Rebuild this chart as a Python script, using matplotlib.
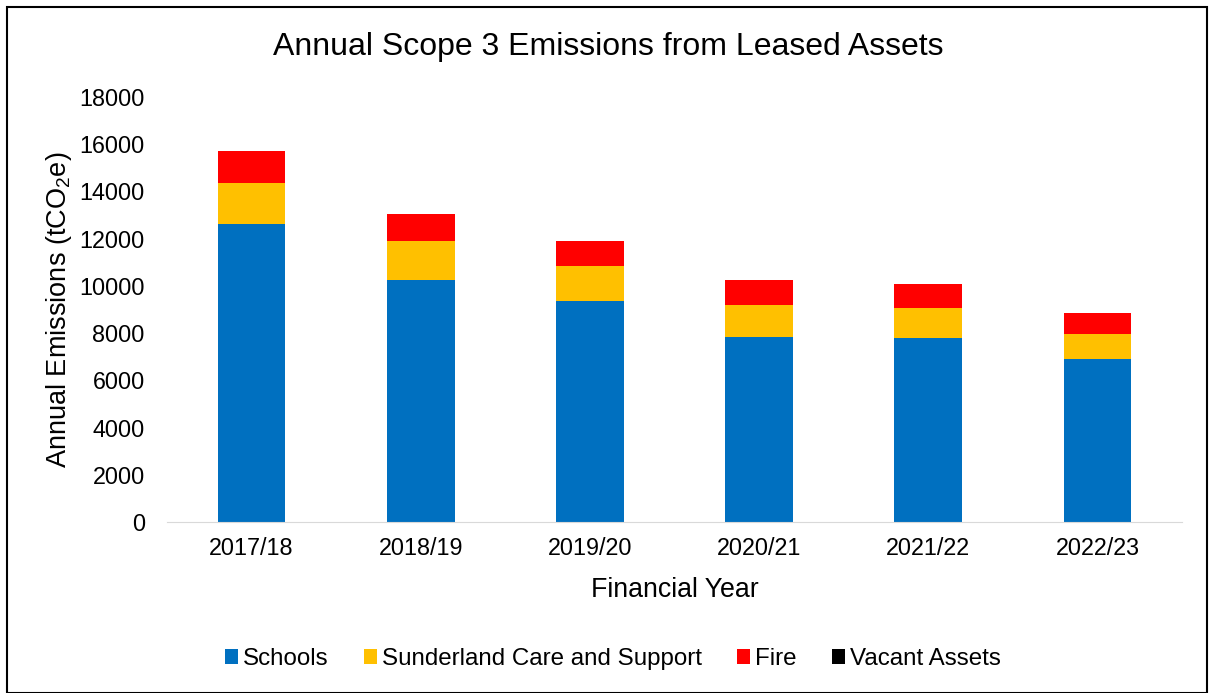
import matplotlib
matplotlib.use("Agg")
import matplotlib.pyplot as plt
import numpy as np
from matplotlib.patches import Rectangle

plt.rcParams['font.family'] = ['Liberation Sans', 'DejaVu Sans']
plt.rcParams['mathtext.default'] = 'regular'

# data (tCO2e)
years = ['2017/18', '2018/19', '2019/20', '2020/21', '2021/22', '2022/23']
schools = [12610, 10250, 9370, 7840, 7810, 6920]
care_support = [1750, 1650, 1460, 1350, 1270, 1040]
fire = [1370, 1130, 1070, 1060, 1000, 890]
vacant = [0, 0, 0, 0, 0, 0]

series = [('Schools', schools, '#0070C0'),
          ('Sunderland Care and Support', care_support, '#FFC000'),
          ('Fire', fire, '#FF0000'),
          ('Vacant Assets', vacant, '#000000')]

fig = plt.figure(figsize=(12.09, 6.93), dpi=100)
ax = fig.add_axes([167/1209, 1 - 522/693, 1015/1209, 425/693])

x = np.arange(len(years))
bottom = np.zeros(len(years))
for name, vals, col in series:
    ax.bar(x, vals, 0.4, bottom=bottom, color=col, label=name)
    bottom += np.array(vals)

ax.set_xlim(-0.5, len(years) - 0.5)
ax.set_ylim(0, 18000)
ax.set_yticks(range(0, 18001, 2000))
ax.set_xticks(x)
ax.set_xticklabels(years)
ax.tick_params(axis='both', length=0, labelsize=16.8)
ax.tick_params(axis='y', pad=16)
ax.tick_params(axis='x', pad=11)
for s in ['top', 'right', 'left']:
    ax.spines[s].set_visible(False)
ax.spines['bottom'].set_color('#D9D9D9')

ax.set_xlabel('Financial Year', fontsize=19.3)
ax.xaxis.set_label_coords(0.5, -(577 - 522) / 425)
ax.set_ylabel('Annual Emissions (tCO$_2$e)', fontsize=19.5)
ax.yaxis.set_label_coords((74 - 167) / 1015, 0.5)
fig.text(608/1209, 1 - 47/693, 'Annual Scope 3 Emissions from Leased Assets',
         fontsize=23, ha='center', va='center')

fig.legend(loc='center', bbox_to_anchor=(613/1209, 1 - 659/693), ncol=4,
           frameon=False, fontsize=17.4, handlelength=0.55, handleheight=0.55,
           handletextpad=0.2, columnspacing=1.45)

fig.patches.append(Rectangle((7/1209, 0), 1200/1209, 1 - 7/693, fill=False,
                             edgecolor='black', linewidth=1.5,
                             transform=fig.transFigure, figure=fig))

fig.savefig('out.png', dpi=100)
